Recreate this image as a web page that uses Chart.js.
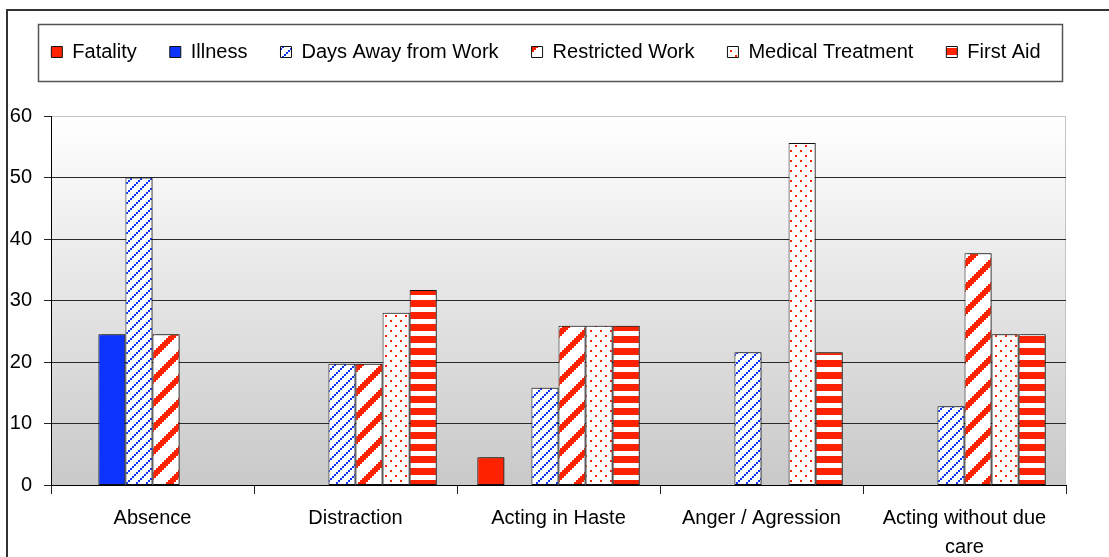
<!DOCTYPE html>
<html>
<head>
<meta charset="utf-8">
<script src="https://cdn.jsdelivr.net/npm/chart.js@4.4.1/dist/chart.umd.min.js"></script>
<style>
  html, body { margin: 0; padding: 0; background: #fff; overflow: hidden; }
  #wrap { position: relative; width: 1109px; height: 557px; }
  #frame { position: absolute; left: 6px; top: 9px; width: 1120px; height: 570px; border: 2px solid #333; pointer-events: none; }
  canvas { position: absolute; left: 0; top: 0; }
</style>
</head>
<body>
<div id="wrap">
  <canvas id="incidentChart" width="1109" height="557"></canvas>
  <div id="frame"></div>
</div>
<script>
// chart data
var categories = ['Absence', 'Distraction', 'Acting in Haste', 'Anger / Agression', ['Acting without due', 'care']];
var fatality   = [0, 0, 4.5, 0, 0];
var illness    = [24.5, 0, 0, 0, 0];
var daysAway   = [50, 19.7, 15.8, 21.6, 12.8];
var restricted = [24.5, 19.7, 25.9, 0, 37.7];
var medical    = [0, 28, 25.9, 55.6, 24.5];
var firstAid   = [0, 31.7, 25.9, 21.6, 24.5];
var yTicks     = [0, 10, 20, 30, 40, 50, 60];

var RED = '#ff2200';
var BLUE = '#0d33ff';

var canvas = document.getElementById('incidentChart');
var ctx = canvas.getContext('2d');

// build an Excel-like fill pattern from a small tile
function makePattern(size, bg, fg, test) {
  var c = document.createElement('canvas');
  c.width = size; c.height = size;
  var g = c.getContext('2d');
  g.fillStyle = bg;
  g.fillRect(0, 0, size, size);
  g.fillStyle = fg;
  for (var y = 0; y < size; y++) {
    for (var x = 0; x < size; x++) {
      if (test(x, y)) g.fillRect(x, y, 1, 1);
    }
  }
  return ctx.createPattern(c, 'repeat');
}

// upward diagonals made of 2px squares
var daysPattern = makePattern(10, '#fff', BLUE, function(x, y) {
  return ((x >> 1) + (y >> 1)) % 5 === 4;
});
// wide upward diagonal stripes
var restrictedPattern = makePattern(24, '#fff', RED, function(x, y) {
  return ((x >> 1) + (y >> 1)) % 12 < 4;
});
// sparse dots
var medicalPattern = makePattern(10, '#fff', RED, function(x, y) {
  return (x <= 1 && y <= 1) || (x >= 5 && x <= 6 && y >= 5 && y <= 6);
});
// horizontal bands
var firstAidPattern = makePattern(12, '#fff', RED, function(x, y) {
  return y < 7;
});

// plot area background, light frame and bar shadows
var plotBackground = {
  id: 'plotBackground',
  beforeDraw: function(chart) {
    var a = chart.chartArea, c = chart.ctx;
    var grad = c.createLinearGradient(0, a.top, 0, a.bottom);
    grad.addColorStop(0, '#ffffff');
    grad.addColorStop(1, '#c9c9c9');
    c.save();
    c.fillStyle = grad;
    c.fillRect(a.left, a.top, a.right - a.left, a.bottom - a.top);
    c.strokeStyle = '#c4c4c4';
    c.lineWidth = 1;
    c.strokeRect(a.left + 0.5, a.top + 0.5, a.right - a.left - 1, a.bottom - a.top);
    c.restore();
  },
  beforeDatasetsDraw: function(chart) {
    var c = chart.ctx;
    c.save();
    c.shadowColor = 'rgba(0,0,0,0.4)';
    c.shadowOffsetX = 3;
    c.shadowOffsetY = 0;
    c.shadowBlur = 0;
  },
  afterDatasetsDraw: function(chart) {
    chart.ctx.restore();
  }
};

// box drawn around the legend items
var legendFrame = {
  id: 'legendFrame',
  afterDraw: function(chart) {
    var boxes = chart.legend.legendHitBoxes;
    if (!boxes || !boxes.length) return;
    var left = Infinity, right = -Infinity, top = Infinity, bottom = -Infinity;
    boxes.forEach(function(b) {
      left = Math.min(left, b.left);
      right = Math.max(right, b.left + b.width);
      top = Math.min(top, b.top);
      bottom = Math.max(bottom, b.top + b.height);
    });
    var c = chart.ctx;
    c.save();
    c.strokeStyle = '#555';
    c.lineWidth = 1.5;
    c.strokeRect(Math.round(left - 13) + 0.5, Math.round(top - 18) + 0.5,
                 Math.round(right - left + 35), Math.round(bottom - top + 37));
    c.restore();
  }
};

Chart.defaults.font.family = "'Liberation Sans', Arial, sans-serif";
Chart.defaults.font.size = 20;
Chart.defaults.color = '#000';

var chart = new Chart(ctx, {
  type: 'bar',
  data: {
    labels: categories,
    datasets: [
      { label: 'Fatality', data: fatality, backgroundColor: RED },
      { label: 'Illness', data: illness, backgroundColor: BLUE },
      { label: 'Days Away from Work', data: daysAway, backgroundColor: daysPattern },
      { label: 'Restricted Work', data: restricted, backgroundColor: restrictedPattern },
      { label: 'Medical Treatment', data: medical, backgroundColor: medicalPattern },
      { label: 'First Aid', data: firstAid, backgroundColor: firstAidPattern }
    ]
  },
  options: {
    responsive: false,
    animation: false,
    devicePixelRatio: 1,
    datasets: {
      bar: {
        borderColor: '#111',
        borderWidth: 1,
        borderSkipped: false,
        categoryPercentage: 0.8,
        barPercentage: 1
      }
    },
    layout: { padding: { left: 0, right: 17, top: 9, bottom: 0 } },
    plugins: {
      tooltip: { enabled: false },
      legend: {
        position: 'top',
        labels: {
          boxWidth: 11,
          boxHeight: 11,
          padding: 33,
          color: '#000',
          font: { size: 20 }
        }
      }
    },
    scales: {
      // spacer between legend and plot
      xTop: {
        type: 'category',
        position: 'top',
        grid: { display: false },
        ticks: { display: false },
        border: { display: false },
        afterFit: function(s) { s.height = 44; }
      },
      // spacer on the right of the plot
      yRight: {
        type: 'linear',
        position: 'right',
        grid: { display: false },
        ticks: { display: false },
        border: { display: false },
        afterFit: function(s) { s.width = 26; }
      },
      x: {
        position: 'bottom',
        grid: {
          drawOnChartArea: false,
          drawTicks: true,
          tickLength: 9,
          tickColor: '#222'
        },
        border: { color: '#000', width: 1 },
        ticks: {
          padding: 10,
          maxRotation: 0,
          autoSkip: false,
          font: { size: 20, lineHeight: 1.45 }
        },
        afterFit: function(s) { s.height = 72; }
      },
      y: {
        min: yTicks[0],
        max: yTicks[yTicks.length - 1],
        afterBuildTicks: function(s) {
          s.ticks = yTicks.map(function(v) { return { value: v }; });
        },
        grid: {
          color: function(c) {
            if (c.tick.value === yTicks[yTicks.length - 1]) return '#c4c4c4';
            return '#2a2a2a';
          },
          lineWidth: 1,
          tickLength: 7,
          tickColor: '#222'
        },
        border: { color: '#000', width: 1 },
        ticks: { padding: 12, font: { size: 20 } },
        afterFit: function(s) { s.width = 51; }
      }
    }
  },
  plugins: [plotBackground, legendFrame]
});
</script>
</body>
</html>
